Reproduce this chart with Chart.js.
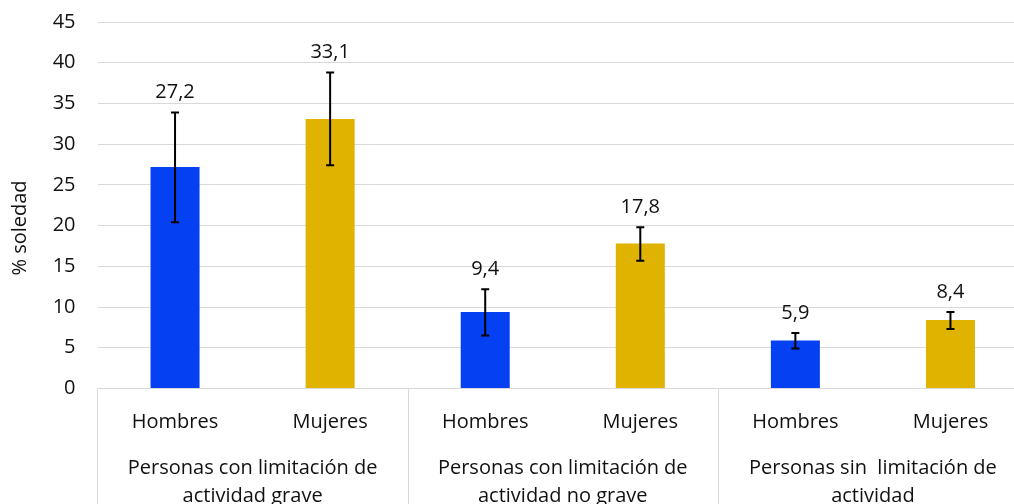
<!DOCTYPE html>
<html><head><meta charset="utf-8">
<script src="https://cdn.jsdelivr.net/npm/chart.js@4/dist/chart.umd.min.js"></script>
<style>html,body{margin:0;padding:0;overflow:hidden;background:#fff}#wrap{width:1028px;height:504px;position:relative}</style>
</head><body><div id="wrap"><canvas id="c"></canvas></div>
<script>
const categories = ['Hombres','Mujeres','Hombres','Mujeres','Hombres','Mujeres'];
const groupLabels = [['Personas con limitación de','actividad grave'],['Personas con limitación de','actividad no grave'],['Personas sin  limitación de','actividad']];
const groupSize = 2;
const values = [27.2,33.1,9.4,17.8,5.9,8.4];
const errLow = [20.4,27.4,6.5,15.7,4.9,7.3];
const errHigh = [33.9,38.8,12.2,19.8,6.8,9.4];
const valueLabels = ['27,2','33,1','9,4','17,8','5,9','8,4'];
const barColors = ['#0540F2','#DFB300','#0540F2','#DFB300','#0540F2','#DFB300'];
const yMin = 0, yMax = 45, yStep = 5;
const yTitle = '% soledad';

const FONT = "'Open Sans', 'Noto Sans', sans-serif";
const TXT = '#111';
const GRID = '#d9d9d9';

const overlay = {
  id: 'overlay',
  afterDatasetsDraw(chart) {
    const ctx = chart.ctx, xs = chart.scales.x, ys = chart.scales.y;
    ctx.save();
    ctx.strokeStyle = '#000'; ctx.lineWidth = 2;
    values.forEach((v, i) => {
      const x = xs.getPixelForValue(i);
      const yt = ys.getPixelForValue(errHigh[i]), yb = ys.getPixelForValue(errLow[i]);
      ctx.beginPath();
      ctx.moveTo(x, yt); ctx.lineTo(x, yb);
      ctx.moveTo(x - 4, yt); ctx.lineTo(x + 4, yt);
      ctx.moveTo(x - 4, yb); ctx.lineTo(x + 4, yb);
      ctx.stroke();
      ctx.fillStyle = TXT; ctx.font = '20px ' + FONT;
      ctx.textAlign = 'center'; ctx.textBaseline = 'middle';
      ctx.fillText(valueLabels[i], x, yt - 20);
    });
    ctx.restore();
  },
  afterDraw(chart) {
    const ctx = chart.ctx, xs = chart.scales.x, ca = chart.chartArea;
    ctx.save();
    const half = (xs.getPixelForValue(1) - xs.getPixelForValue(0)) / 2;
    ctx.strokeStyle = GRID; ctx.lineWidth = 1;
    for (let g = 0; g <= groupLabels.length; g++) {
      const x = Math.round(xs.getPixelForValue(g * groupSize) - half) + 0.5;
      ctx.beginPath(); ctx.moveTo(x, ca.bottom); ctx.lineTo(x, chart.height); ctx.stroke();
    }
    ctx.fillStyle = TXT; ctx.font = '20px ' + FONT;
    ctx.textAlign = 'center'; ctx.textBaseline = 'middle';
    groupLabels.forEach((lines, g) => {
      const x = (xs.getPixelForValue(g * groupSize) + xs.getPixelForValue(g * groupSize + groupSize - 1)) / 2;
      lines.forEach((t, k) => ctx.fillText(t, x, ca.bottom + 80 + k * 28));
    });
    ctx.translate(20, 228); ctx.rotate(-Math.PI / 2);
    ctx.fillText(yTitle, 0, 0);
    ctx.restore();
  }
};

new Chart(document.getElementById('c'), {
  type: 'bar',
  data: { labels: categories, datasets: [{ data: values, backgroundColor: barColors, categoryPercentage: 1, barPercentage: 0.316 }] },
  options: {
    responsive: true, maintainAspectRatio: false, animation: false, devicePixelRatio: 1,
    layout: { padding: { top: 22, right: 0, left: 0, bottom: 0 } },
    plugins: { legend: { display: false }, tooltip: { enabled: false } },
    scales: {
      x: {
        grid: { display: false }, border: { display: false },
        ticks: { color: TXT, font: { size: 20, family: FONT }, padding: 14, maxRotation: 0 },
        afterFit: s => { s.height = 115.5; s.paddingLeft = 0; s.paddingRight = 0; }
      },
      y: {
        min: yMin, max: yMax,
        ticks: { stepSize: yStep, color: TXT, font: { size: 20, family: FONT }, padding: 22 },
        grid: { color: GRID, drawTicks: false, lineWidth: 1 }, border: { display: false },
        afterFit: s => { s.width = 97.5; s.paddingTop = 0; s.paddingBottom = 0; }
      }
    }
  },
  plugins: [overlay]
});
</script></body></html>
